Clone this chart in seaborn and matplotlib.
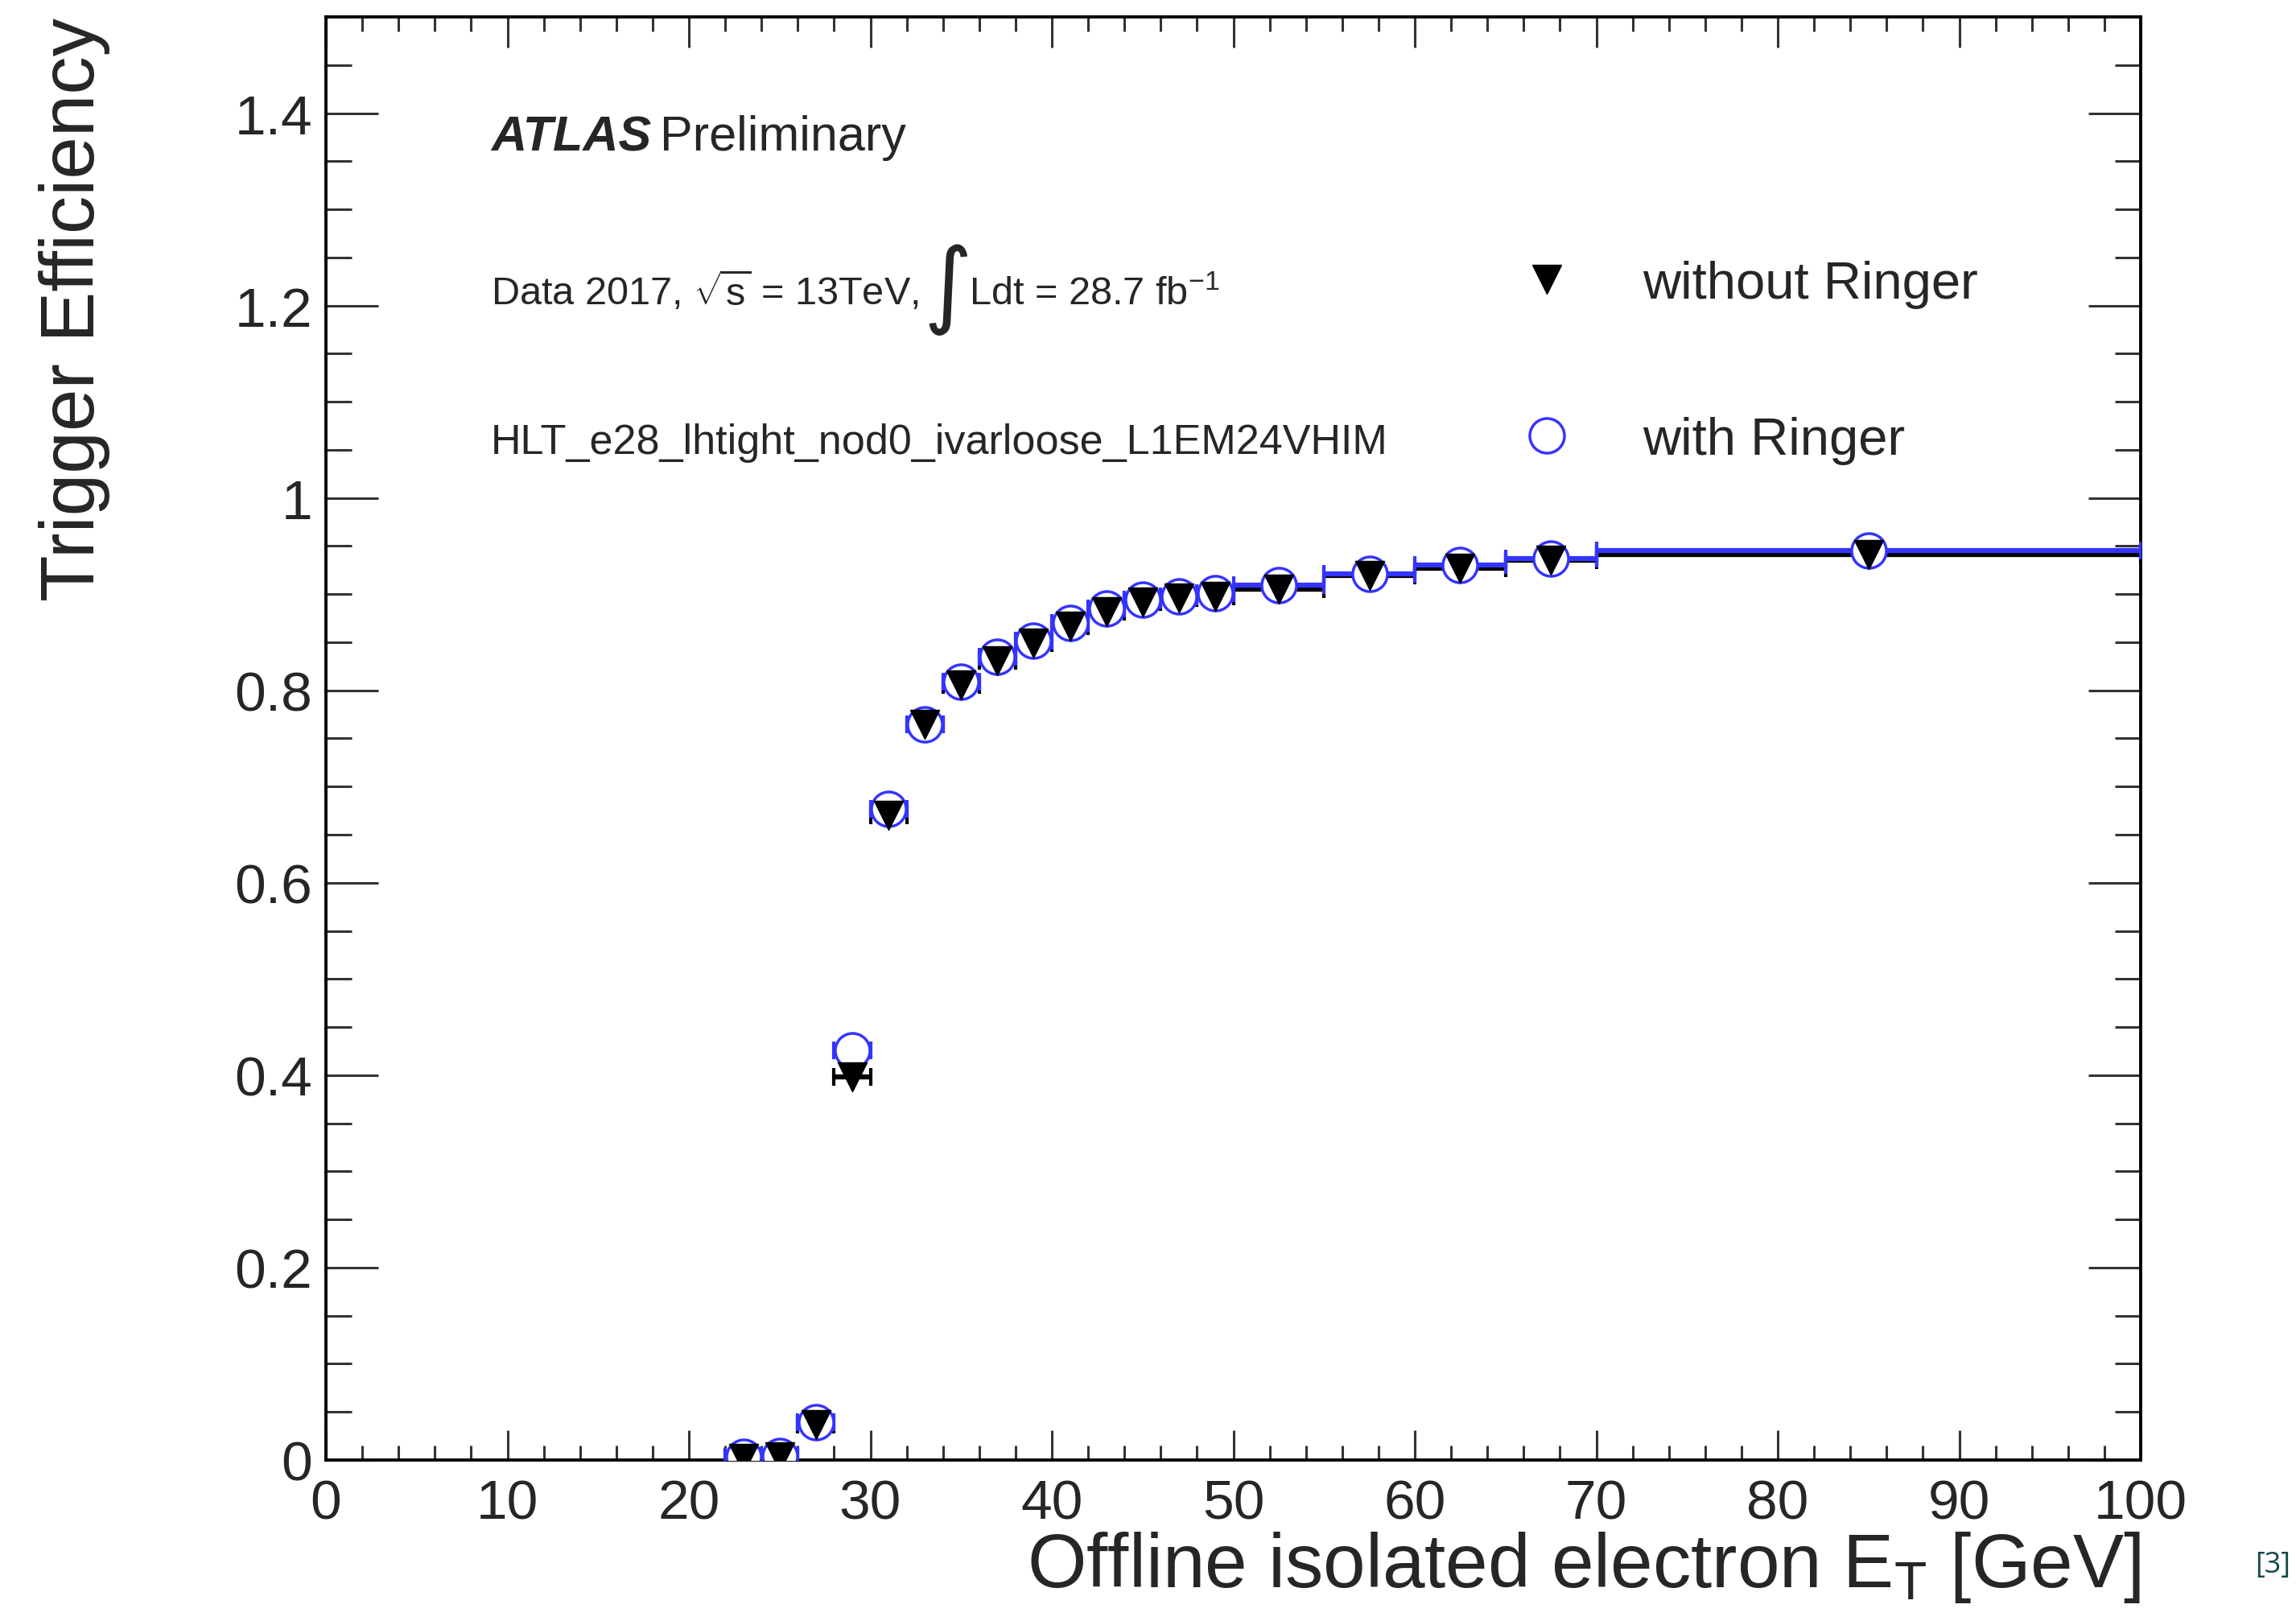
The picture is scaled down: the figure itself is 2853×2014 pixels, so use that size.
import numpy as np
import pandas as pd
import matplotlib
matplotlib.use('Agg')
import matplotlib.pyplot as plt
from matplotlib.lines import Line2D
from matplotlib.ticker import MultipleLocator, FuncFormatter
import seaborn as sns

# Efficiency per offline E_T bin (bin centre, half bin width)
et_center = [23, 25, 27, 29, 31, 33, 35, 37, 39, 41, 43, 45, 47, 49, 52.5, 57.5, 62.5, 67.5, 85]
et_halfwidth = [1, 1, 1, 1, 1, 1, 1, 1, 1, 1, 1, 1, 1, 1, 2.5, 2.5, 2.5, 2.5, 15]
eff_without_ringer = [0.002, 0.003, 0.037, 0.398, 0.670, 0.765, 0.806, 0.831, 0.849, 0.867, 0.882, 0.892, 0.896, 0.898,
                      0.905, 0.919, 0.927, 0.935, 0.941]
eff_with_ringer = [0.003, 0.004, 0.039, 0.426, 0.677, 0.765, 0.809, 0.835, 0.852, 0.870, 0.885, 0.894, 0.898, 0.901,
                   0.909, 0.921, 0.930, 0.937, 0.945]

series_labels = ['without Ringer', 'with Ringer']
x_ticks = [0, 10, 20, 30, 40, 50, 60, 70, 80, 90, 100]
y_ticks = [0, 0.2, 0.4, 0.6, 0.8, 1.0, 1.2, 1.4]

df = pd.DataFrame({'et': et_center, 'dx': et_halfwidth,
                   'eff_no': eff_without_ringer, 'eff_ringer': eff_with_ringer})

sns.set_style('ticks')
plt.rcParams['font.family'] = ['Liberation Sans', 'DejaVu Sans']
plt.rcParams['mathtext.fontset'] = 'custom'
plt.rcParams['mathtext.rm'] = 'Liberation Sans'
plt.rcParams['mathtext.it'] = 'Liberation Sans:italic'
plt.rcParams['mathtext.bf'] = 'Liberation Sans:bold'

blue = '#3434ff'

fig = plt.figure(figsize=(28.53, 20.15), dpi=100)
ax = fig.add_axes([0.14196, 0.09926, 0.79040, 0.88983])

# error bars (x = bin width)
ax.errorbar(df['et'], df['eff_no'], xerr=df['dx'], fmt='none', ecolor='black',
            elinewidth=4.5, capsize=8, capthick=3, zorder=2)
ax.errorbar(df['et'], df['eff_ringer'], xerr=df['dx'], fmt='none', ecolor=blue,
            elinewidth=4.5, capsize=8, capthick=3, zorder=3)

# markers
sns.scatterplot(data=df, x='et', y='eff_ringer', marker='o', s=31**2, color='white',
                edgecolor=blue, linewidth=2.5, zorder=4, ax=ax, legend=False)
sns.scatterplot(data=df, x='et', y='eff_no', marker='v', s=26**2, color='black',
                edgecolor='black', linewidth=1, zorder=5, ax=ax, legend=False)

ax.set_xlim(0, 100)
ax.set_ylim(0, 1.5)
ax.set_xticks(x_ticks)
ax.set_yticks(y_ticks)
ax.xaxis.set_minor_locator(MultipleLocator(2))
ax.yaxis.set_minor_locator(MultipleLocator(0.05))
ax.yaxis.set_major_formatter(FuncFormatter(lambda v, p: '{:g}'.format(round(v, 2))))

ax.tick_params(axis='both', which='both', direction='in', top=True, right=True,
               color='#333333', width=2.2, labelsize=50)
ax.tick_params(axis='x', which='major', length=27, pad=16)
ax.tick_params(axis='x', which='minor', length=13)
ax.tick_params(axis='y', which='major', length=47, pad=12)
ax.tick_params(axis='y', which='minor', length=23)
for sp in ax.spines.values():
    sp.set_linewidth(2.8)
    sp.set_color('black')

ax.set_xlabel('Offline isolated electron E$_{\\mathrm{T}}$ [GeV]', fontsize=68, loc='right')
ax.set_ylabel('Trigger Efficiency', fontsize=68, loc='top')
ax.xaxis.set_label_coords(1.0, -0.048)
ax.yaxis.set_label_coords(-0.119, 1.0)

# ATLAS labels
ax.text(0.0909, 0.9079, 'ATLAS', transform=ax.transAxes, fontsize=44,
        fontweight='bold', fontstyle='italic', va='baseline')
ax.text(0.184, 0.9079, 'Preliminary', transform=ax.transAxes, fontsize=44, va='baseline')
ax.text(0.0909, 0.8008, 'Data 2017, $\\sqrt{\\mathrm{s}}$ = 13TeV,', transform=ax.transAxes,
        fontsize=35, va='baseline')
ax.text(0.3425, 0.812, '\u222b', transform=ax.transAxes, fontsize=84,
        family=['DejaVu Sans'], ha='center', va='center')
ax.text(0.3545, 0.8008, 'Ldt = 28.7 fb$^{-1}$', transform=ax.transAxes,
        fontsize=35, va='baseline')
ax.text(0.0909, 0.6975, 'HLT_e28_lhtight_nod0_ivarloose_L1EM24VHIM', transform=ax.transAxes,
        fontsize=37.5, va='baseline')

handles = [Line2D([], [], marker='v', color='black', ms=26, ls='none'),
           Line2D([], [], marker='o', mfc='none', mec=blue, mew=2.5, ms=31, ls='none')]
ax.legend(handles, series_labels, loc='upper left', bbox_to_anchor=(0.6553, 0.8315),
          frameon=False, fontsize=47, handlelength=1.2, handletextpad=1.22,
          labelspacing=2.05, borderpad=0, borderaxespad=0)

fig.text(0.990, 0.0347, '[3]', fontsize=26, color='#164a4e', family=['Open Sans', 'DejaVu Sans'],
         ha='center', va='center')

fig.savefig('out.png', dpi=100)
